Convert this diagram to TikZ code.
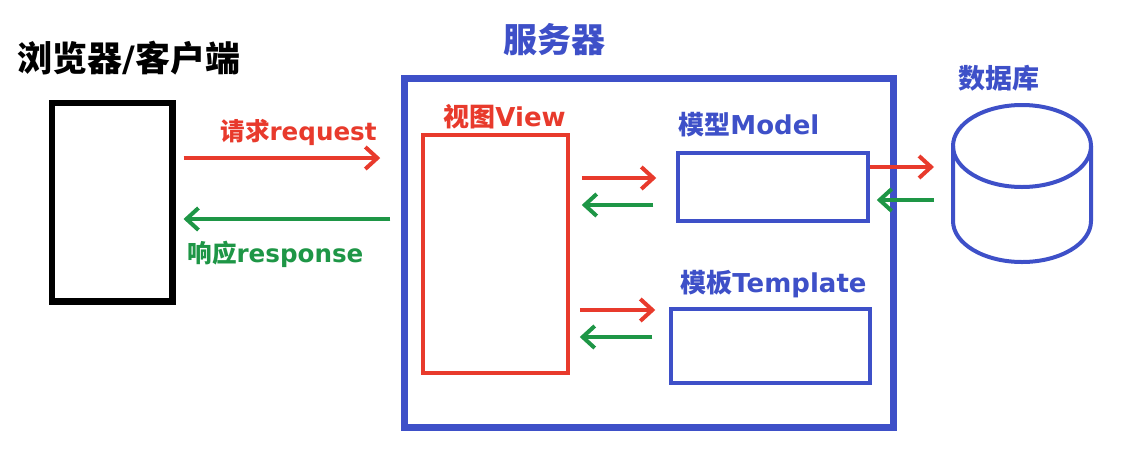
\documentclass[tikz,border=0pt]{standalone}
\usepackage{fontspec}
\setmainfont{DejaVu Sans}
\newfontfamily\cjkfont{Noto Sans CJK SC}
\usetikzlibrary{arrows.meta,calc}
\definecolor{mvred}{RGB}{232,58,44}
\definecolor{mvgreen}{RGB}{30,150,70}
\definecolor{mvblue}{RGB}{62,80,200}
\tikzset{
  box/.style={draw, minimum width=#1, inner sep=0pt},
  reqarrow/.style={draw=mvred, line width=2pt, -{Straight Barb[length=6pt,width=11pt,line width=2pt]}},
  resarrow/.style={draw=mvgreen, line width=2pt, -{Straight Barb[length=6pt,width=11pt,line width=2pt]}},
  lbl/.style={font=\bfseries\fontsize{13pt}{15pt}\selectfont, inner sep=0pt, anchor=west},
  arrowlbl/.style={lbl, font=\bfseries\fontsize{12.3pt}{15pt}\selectfont}
}
\begin{document}
\begin{tikzpicture}[x=0.5pt, y=-0.5pt]
\useasboundingbox (0,0) rectangle (1129,456);
% browser / client
\node[font=\bfseries\fontsize{17.5pt}{20pt}\selectfont, inner sep=0pt, anchor=west] (clienttitle) at (17,58) {{\cjkfont 浏览器}/{\cjkfont 客户端}};
\node[box=60.25pt, minimum height=99.25pt, line width=3.25pt] (browser) at (112,202) {};
% server
\node[font=\bfseries\fontsize{17pt}{19pt}\selectfont, text=mvblue, inner sep=0pt] (servertitle) at (554,40) {\cjkfont 服务器};
\node[box=244.5pt, minimum height=174.5pt, line width=3.25pt, draw=mvblue] (server) at (649,253) {};
\node[box=72.5pt, minimum height=119pt, line width=1.75pt, draw=mvred] (view) at (495.5,254) {};
\node[box=95pt, minimum height=34pt, line width=1.75pt, draw=mvblue] (model) at (773,187) {};
\node[box=99.5pt, minimum height=37pt, line width=1.75pt, draw=mvblue] (template) at (770.5,346) {};
\node[lbl, text=mvred] (viewlbl) at (443,117) {{\cjkfont 视图}View};
\node[lbl, text=mvblue] (modellbl) at (678,125) {{\cjkfont 模型}Model};
\node[lbl, text=mvblue] (templatelbl) at (680,284) {{\cjkfont 模板}Template};
% database
\node[inner sep=0pt, outer sep=0pt, minimum width=69pt, minimum height=78.5pt] (db) at (1022,183.5) {};
\draw[mvblue, line width=2pt] (1022,146) ellipse [x radius=69, y radius=41];
\draw[mvblue, line width=2pt] (953,146) -- (953,221) arc[start angle=180, end angle=0, x radius=69, y radius=41] -- (1091,146);
\node[font=\bfseries\fontsize{13.5pt}{15pt}\selectfont, text=mvblue, inner sep=0pt] (dbtitle) at (999,78) {\cjkfont 数据库};
% request / response
\draw[reqarrow, shorten <=4pt, shorten >=10.5pt] (browser.east |- 0,158) -- (server.west |- 0,158);
\draw[resarrow, shorten <=5.5pt, shorten >=4pt] (server.west |- 0,219) -- (browser.east |- 0,219);
\node[arrowlbl, text=mvred] (reqlbl) at (220,132) {{\cjkfont 请求}request};
\node[arrowlbl, text=mvgreen] (reslbl) at (187,254) {{\cjkfont 响应}response};
% view <-> model, view <-> template
\draw[reqarrow, shorten <=6pt, shorten >=10pt] (view.east |- 0,178) -- (model.west |- 0,178);
\draw[resarrow, shorten <=11.5pt, shorten >=6pt] (model.west |- 0,205) -- (view.east |- 0,205);
\draw[reqarrow, shorten <=5pt, shorten >=7pt] (view.east |- 0,310) -- (template.west |- 0,310);
\draw[resarrow, shorten <=8.5pt, shorten >=5pt] (template.west |- 0,337) -- (view.east |- 0,337);
% model <-> database
\draw[reqarrow, shorten <=0pt, shorten >=9.5pt] (model.east |- 0,167) -- (db.west |- 0,167);
\draw[resarrow, shorten <=9.5pt, shorten >=3.5pt] (db.west |- 0,200) -- (model.east |- 0,200);
\end{tikzpicture}
\end{document}
